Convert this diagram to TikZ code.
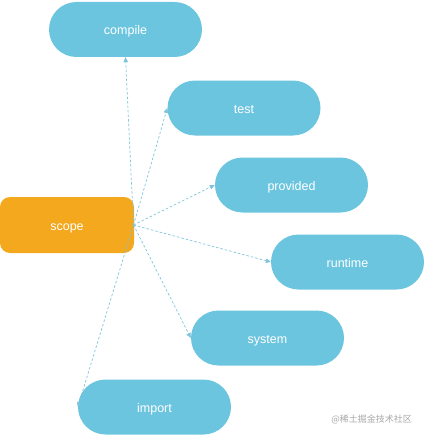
\documentclass[tikz,border=0pt]{standalone}
\usepackage{fontspec}
\setmainfont{Liberation Sans}
\newfontfamily\cjk{Noto Sans CJK SC}
\usetikzlibrary{arrows.meta}
\definecolor{pillblue}{HTML}{6CC5DF}
\definecolor{scopeorange}{HTML}{F3A81E}
\definecolor{edgeblue}{HTML}{7EC4DB}
\definecolor{markgray}{HTML}{A8A8A8}
\begin{document}
\begin{tikzpicture}[x=1pt,y=-1pt,
  lbl/.style={text=white, font=\fontsize{12.5}{14}\selectfont, text height=11pt, text depth=0pt},
  pill/.style={lbl, fill=pillblue, rounded corners=27.5pt, minimum width=153pt, minimum height=55pt, inner sep=0pt},
  scopebox/.style={lbl, fill=scopeorange, rounded corners=10pt, minimum width=134pt, minimum height=56pt, inner sep=0pt},
  link/.style={draw=edgeblue, dashed, dash pattern=on 2.5pt off 2pt, line width=0.7pt, -{Triangle[length=5pt,width=4.5pt]}}]
\useasboundingbox (0,0) rectangle (424,436);
\node[scopebox] (scope) at (67,225) {scope};
\node[pill] (compile) at (125.5,29.5) {compile};
\node[pill] (test) at (244,108) {test};
\node[pill] (provided) at (291.5,185) {provided};
\node[pill] (runtime) at (347.5,262) {runtime};
\node[pill] (system) at (267.5,338) {system};
\node[pill] (import) at (154.5,407) {import};
\coordinate (src) at (133.5,225);
\draw[link] (src) -- (compile.south);
\draw[link] (src) -- (test.west);
\draw[link] (src) -- (provided.west);
\draw[link] (src) -- (runtime.west);
\draw[link] (src) -- (system.west);
\draw[link] (src) -- (import.west);
\node[text=markgray, font=\cjk\fontsize{9}{10}\selectfont, anchor=east, inner sep=0pt] (mark) at (412,419) {@稀土掘金技术社区};
\end{tikzpicture}
\end{document}
